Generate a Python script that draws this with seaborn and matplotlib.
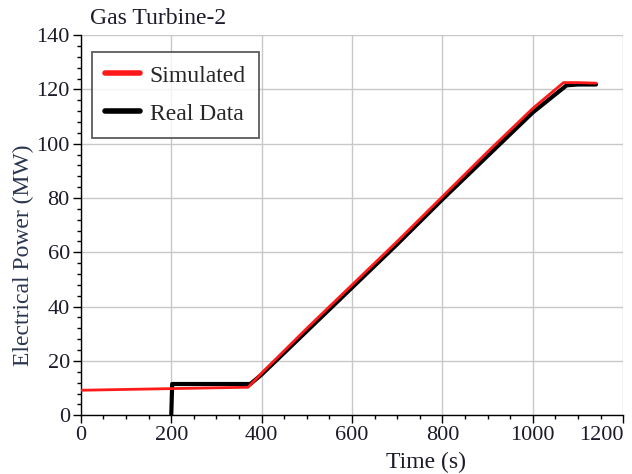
import matplotlib
matplotlib.use("Agg")
import matplotlib.pyplot as plt
import seaborn as sns
import pandas as pd
from matplotlib.ticker import MultipleLocator

# Simulated response (time in s, power in MW)
sim_time = [0, 100, 200, 300, 370, 400, 500, 600, 700, 800, 900, 1000, 1068, 1100, 1140]
sim_power = [9.2, 9.5, 9.8, 10.1, 10.3, 15.5, 32.0, 48.0, 64.0, 80.5, 97.0, 113.0, 122.5, 122.5, 122.3]

# Measured data
real_time = [200, 202, 300, 375, 400, 500, 600, 700, 800, 900, 1000, 1075, 1100, 1140]
real_power = [0, 11.5, 11.5, 11.5, 15.0, 31.0, 47.0, 63.0, 79.5, 95.5, 111.5, 121.5, 121.8, 121.8]

x_ticks = [0, 200, 400, 600, 800, 1000, 1200]
x_labels = ["0", "200", "400", "600", "800", "1000", "1200"]

sim_df = pd.DataFrame({"time": sim_time, "power": sim_power})
real_df = pd.DataFrame({"time": real_time, "power": real_power})

sns.set_style("white")
plt.rcParams["font.family"] = ["Liberation Serif", "DejaVu Serif"]

fig = plt.figure(figsize=(6.32, 4.74), dpi=100)
ax = fig.add_axes([0.128, 0.124, 0.858, 0.802])

sns.lineplot(data=sim_df, x="time", y="power", color="#ff1a1a", lw=2.0, label="Simulated", ax=ax, zorder=3)
sns.lineplot(data=real_df, x="time", y="power", color="black", lw=3.0, label="Real Data", ax=ax, zorder=2)

ax.set_xlim(0, 1200)
ax.set_ylim(0, 140)
ax.set_xticks(x_ticks, x_labels)
ax.xaxis.set_minor_locator(MultipleLocator(50))
ax.yaxis.set_major_locator(MultipleLocator(20))
ax.yaxis.set_minor_locator(MultipleLocator(4))
ax.grid(True, which="major", color="#c8c8c8", lw=1.0)
ax.set_axisbelow(True)

for side in ["top", "right"]:
    ax.spines[side].set_visible(False)
for side in ["left", "bottom"]:
    ax.spines[side].set_color("black")
    ax.spines[side].set_linewidth(1.0)

ax.tick_params(which="major", direction="out", length=6, width=1, labelsize=16, colors="black",
               labelcolor="#1b1b2b", bottom=True, left=True, pad=2)
ax.tick_params(which="minor", direction="out", length=3, width=1, colors="black", bottom=True, left=True)

# keep the last x label inside the figure
ax.get_xticklabels()[-1].set_horizontalalignment("right")

ax.set_xlabel("Time (s)", fontsize=17, color="#1b1b2b")
ax.xaxis.set_label_coords(0.637, -0.097)
ax.set_ylabel("Electrical Power (MW)", fontsize=17, color="#2a3550")
ax.yaxis.set_label_coords(-0.087, 0.42)

fig.text(0.142, 0.962, "Gas Turbine-2", fontsize=17, color="#1b1b2b", ha="left", va="center")

leg = ax.legend(loc="upper left", bbox_to_anchor=(0.02, 0.955), fontsize=17, frameon=True,
                fancybox=False, edgecolor="#333333", handlelength=1.5, borderpad=0.55,
                labelspacing=0.7, handletextpad=0.4, borderaxespad=0)
leg.get_frame().set_linewidth(1.3)
for line in leg.get_lines():
    line.set_linewidth(4)

fig.savefig("out.png", dpi=100)
